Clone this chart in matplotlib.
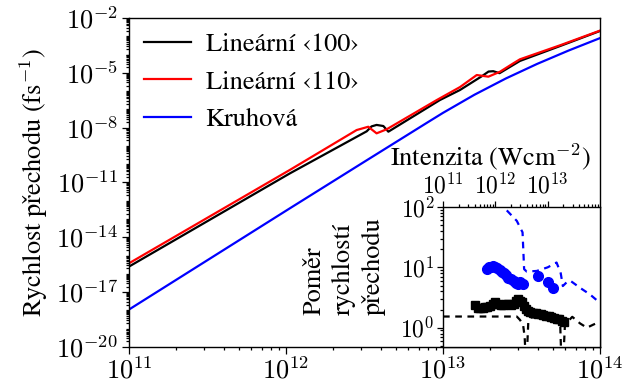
import numpy as np
import matplotlib
matplotlib.use("Agg")
import matplotlib.pyplot as plt
from matplotlib.ticker import FixedLocator, LogLocator, NullFormatter, FuncFormatter

plt.rcParams["font.family"] = ["STIXGeneral", "DejaVu Serif"]
plt.rcParams["mathtext.fontset"] = "cm"
plt.rcParams["axes.unicode_minus"] = False

# main panel: transition rate vs intensity, log10 values
lin100_logI = [11.00, 12.025, 12.514, 12.545, 12.577, 12.62, 12.652, 12.98, 13.108,
               13.25, 13.29, 13.32, 13.36, 13.49, 13.75, 14.00]
lin100_logW = [-15.60, -10.50, -8.20, -7.93, -7.85, -7.91, -8.22, -6.49, -5.94,
               -5.17, -4.93, -4.91, -5.02, -4.35, -3.52, -2.71]

lin110_logI = [11.00, 12.025, 12.45, 12.524, 12.577, 12.641, 12.96, 13.108, 13.215,
               13.289, 13.363, 13.448, 13.49, 13.75, 14.00]
lin110_logW = [-15.42, -10.31, -8.13, -7.95, -8.31, -8.09, -6.49, -5.78, -5.12,
               -5.21, -4.94, -4.48, -4.26, -3.48, -2.69]

circ_logI = [11.00, 12.025, 12.50, 12.90, 13.00, 13.20, 13.40, 13.60, 13.80, 14.00]
circ_logW = [-17.95, -12.41, -9.86, -7.72, -7.19, -6.20, -5.31, -4.51, -3.78, -3.10]

# inset: rate ratios, log10 values
ratio_circ_logI = [12.00, 12.19, 12.41, 12.52, 12.55, 12.60, 12.79, 13.00, 13.17, 13.25,
                   13.29, 13.36, 13.43, 13.62, 13.81, 14.00]
ratio_circ_log = [2.30, 1.97, 1.77, 1.58, 0.97, 0.93, 0.94, 1.00, 1.08, 0.90,
                  0.69, 0.75, 0.78, 0.66, 0.55, 0.41]

ratio_lin_logI = [11.00, 12.41, 12.47, 12.53, 12.56, 12.58, 12.60, 12.63, 12.68, 13.00,
                  13.20, 13.24, 13.26, 13.30, 13.33, 13.47, 13.62, 13.75, 13.87, 14.00]
ratio_lin_log = [0.185, 0.185, 0.13, 0.05, -0.15, -0.50, -0.50, 0.10, 0.17, 0.18,
                 0.15, 0.05, -0.50, -0.50, 0.05, 0.18, 0.07, 0.00, 0.05, 0.10]

exp_circ_logI = [11.84, 11.88, 11.92, 11.96, 12.00, 12.04, 12.08, 12.12, 12.16, 12.20,
                 12.25, 12.30, 12.35, 12.40, 12.44, 12.48, 12.53, 12.82, 13.00, 13.10]
exp_circ_log = [0.98, 1.00, 1.01, 1.02, 1.01, 0.99, 0.96, 0.93, 0.90, 0.87,
                0.83, 0.80, 0.77, 0.74, 0.72, 0.76, 0.73, 0.85, 0.76, 0.65]

exp_lin_logI = [11.61, 11.66, 11.71, 11.76, 11.80, 11.85, 11.90, 11.95, 12.00, 12.05,
                12.10, 12.15, 12.20, 12.25, 12.30, 12.35, 12.40, 12.43, 12.47, 12.51,
                12.55, 12.59, 12.63, 12.67, 12.72, 12.77, 12.82, 12.87, 12.92, 12.97,
                13.02, 13.07, 13.12, 13.17, 13.22, 13.27, 13.31]
exp_lin_log = [0.38, 0.33, 0.32, 0.33, 0.35, 0.35, 0.36, 0.40, 0.42, 0.40,
               0.37, 0.38, 0.40, 0.39, 0.37, 0.40, 0.45, 0.47, 0.45, 0.42,
               0.36, 0.31, 0.28, 0.26, 0.25, 0.24, 0.23, 0.22, 0.21, 0.20,
               0.19, 0.18, 0.16, 0.15, 0.14, 0.11, 0.09]


def p10(v):
    return 10.0 ** np.asarray(v)


# power-of-ten labels in Computer Modern
pow10 = FuncFormatter(lambda v, pos: r"$10^{%d}$" % int(round(np.log10(v))))

fig = plt.figure(figsize=(6.24, 3.89), dpi=100)
ax = fig.add_axes([129 / 624, 1 - 347 / 389, 471 / 624, 329 / 389])

ax.plot(p10(lin100_logI), p10(lin100_logW), color="black", lw=1.6, label="Lineární ‹100›")
ax.plot(p10(lin110_logI), p10(lin110_logW), color="#ff0000", lw=1.6, label="Lineární ‹110›")
ax.plot(p10(circ_logI), p10(circ_logW), color="#0000ff", lw=1.6, label="Kruhová")

ax.set_xscale("log")
ax.set_yscale("log")
ax.set_xlim(1e11, 1e14)
ax.set_ylim(1e-20, 1e-2)
ax.yaxis.set_major_locator(FixedLocator(10.0 ** np.arange(-20, -1, 3)))
ax.yaxis.set_major_formatter(pow10)
ax.yaxis.set_minor_locator(LogLocator(base=10, subs=np.arange(1, 10), numticks=200))
ax.yaxis.set_minor_formatter(NullFormatter())
ax.xaxis.set_major_locator(FixedLocator([1e11, 1e12, 1e13, 1e14]))
ax.xaxis.set_major_formatter(pow10)
ax.xaxis.set_minor_locator(LogLocator(base=10, subs=np.arange(2, 10), numticks=50))
ax.xaxis.set_minor_formatter(NullFormatter())
ax.tick_params(which="both", direction="out", top=False, right=False, labelsize=19, width=0.9)
ax.tick_params(which="major", length=5, pad=3)
ax.tick_params(which="minor", length=2.5)
for s in ax.spines.values():
    s.set_linewidth(1.0)
ax.set_ylabel("Rychlost přechodu (fs$^{-1}$)", fontsize=19, labelpad=4)

ax.legend(loc="upper left", frameon=False, fontsize=19, handlelength=1.8,
          handletextpad=0.55, labelspacing=0.5, borderaxespad=0.15)

# inset with the rate ratios
ins = fig.add_axes([443 / 624, 1 - 347 / 389, 157 / 624, 140 / 389])
ins.plot(p10(ratio_circ_logI), p10(ratio_circ_log), color="#0000ff", lw=1.6, ls=(0, (3, 2.5)))
ins.plot(p10(ratio_lin_logI), p10(ratio_lin_log), color="black", lw=1.6, ls=(0, (3, 2.5)))
ins.plot(p10(exp_circ_logI), p10(exp_circ_log), "o", color="#0000ff", ms=7, mec="#0000ff")
ins.plot(p10(exp_lin_logI), p10(exp_lin_log), "s", color="black", ms=5.5, mec="black")

ins.set_xscale("log")
ins.set_yscale("log")
ins.set_xlim(1e11, 1e14)
ins.set_ylim(10 ** -0.32, 1e2)
ins.xaxis.set_major_locator(FixedLocator([1e11, 1e12, 1e13]))
ins.xaxis.set_major_formatter(pow10)
ins.xaxis.set_minor_locator(LogLocator(base=10, subs=np.arange(2, 10), numticks=50))
ins.xaxis.set_minor_formatter(NullFormatter())
ins.yaxis.set_major_locator(FixedLocator([1, 10, 100]))
ins.yaxis.set_major_formatter(pow10)
ins.yaxis.set_minor_locator(LogLocator(base=10, subs=np.arange(2, 10), numticks=50))
ins.yaxis.set_minor_formatter(NullFormatter())
ins.xaxis.tick_top()
ins.tick_params(which="both", direction="out", bottom=False, right=False, labelsize=17, width=0.9)
ins.tick_params(which="major", length=4, pad=2)
ins.tick_params(which="minor", length=2)
for s in ins.spines.values():
    s.set_linewidth(1.0)

fig.text(490 / 624, 1 - 157 / 389, "Intenzita (Wcm$^{-2}$)", fontsize=19,
         ha="center", va="center")
fig.text(344 / 624, 1 - 266 / 389, "Poměr\nrychlostí\npřechodu", fontsize=19,
         rotation=90, ha="center", va="center", multialignment="left", linespacing=1.3)

fig.savefig("out.png", dpi=100)
